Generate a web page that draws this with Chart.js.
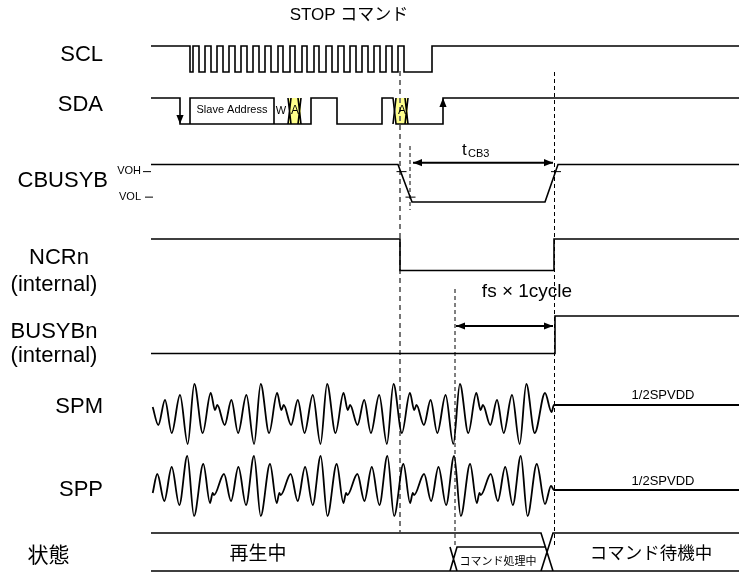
<!DOCTYPE html>
<html>
<head>
<meta charset="utf-8">
<script src="https://cdn.jsdelivr.net/npm/chart.js@4.4.0/dist/chart.umd.min.js"></script>
<style>
  html, body { margin: 0; padding: 0; background: #fff; }
  #wrap { width: 739px; height: 573px; }
</style>
</head>
<body>
<div id="wrap"><canvas id="timing" width="739" height="573"></canvas></div>
<script>
// ---- signal data (time in diagram units, level 1 = high, 0 = low) ----

// SCL: edge times and the level after each edge
const sclEdges  = [151, 190, 193, 199, 205, 211, 217, 223, 229, 235, 241, 247, 253, 259, 265, 271, 278, 283,
                   290, 295, 302, 307, 314, 319, 326, 332, 338, 344, 350, 356, 362, 368, 374, 380, 386, 392,
                   398, 404, 432];
const sclLevels = [1, 0, 1, 0, 1, 0, 1, 0, 1, 0, 1, 0, 1, 0, 1, 0, 1, 0,
                   1, 0, 1, 0, 1, 0, 1, 0, 1, 0, 1, 0, 1, 0, 1, 0, 1, 0,
                   1, 0, 1];

// SDA: main trace, the ACK crossings and the slave address box
const sdaMainT   = [151, 180, 180, 301, 311, 311, 337, 337, 382, 382, 393, 396, 443, 443, 739];
const sdaMainV   = [1, 1, 0, 0, 0, 1, 1, 0, 0, 1, 1, 0, 0, 1, 1];
const sdaCrossT  = [288, 291, null, 288, 291, null, 298, 301, null, 298, 301, null, 393, 396, null, 405, 408, null, 405, 408];
const sdaCrossV  = [0, 1, null, 1, 0, null, 0, 1, null, 1, 0, null, 0, 1, null, 0, 1, null, 1, 0];
const sdaBoxT    = [190, 190, 274, 274];
const sdaBoxV    = [0, 1, 1, 0];
const ackWindows = [[289, 301], [396, 408]];

// CBUSYB with slow edges, VOH / VOL thresholds
const cbT = [151, 398, 412, 545, 558, 739];
const cbV = [1, 1, 0, 0, 1, 1];
const VOH = 0.81, VOL = 0.13;
const cbTickT = [396.5, 406.5, null, 405.5, 415.5, null, 551, 561, null, 143, 151, null, 145, 153];
const cbTickV = [VOH, VOH, null, VOL, VOL, null, VOH, VOH, null, VOH, VOH, null, VOL, VOL];

// internal signals
const ncrEdges  = [151, 400, 554];
const ncrLevels = [1, 0, 1];
const busyEdges  = [151, 555];
const busyLevels = [0, 1];

// SPM / SPP audio output (deviation from 1/2SPVDD, read at peaks and troughs)
const spmT = [152.7,
  158.3, 165.0, 171.7, 180.0, 187.7, 194.3, 202.7, 210.7, 215.0, 217.3,
  224.7, 231.4, 238.1, 246.4, 254.1, 260.7, 269.1, 277.1, 281.4, 283.7,
  291.1, 297.8, 304.5, 312.8, 320.5, 327.1, 335.5, 343.5, 347.8, 350.1,
  357.5, 364.2, 370.9, 379.2, 386.9, 393.5, 401.9, 409.9, 414.2, 416.5,
  423.9, 430.6, 437.3, 445.6, 453.3, 459.9, 468.3, 476.3, 480.6, 482.9,
  490.3, 497.0, 503.7, 512.0, 519.7, 526.3, 534.7, 545.0, 551.5, 554.0, 739];
const spmV = [-2,
  -20, 5, -28, 10, -39, 21, -28, 12, -5, 0,
  -20, 5, -28, 10, -39, 21, -28, 12, -5, 0,
  -20, 5, -28, 10, -39, 21, -28, 12, -5, 0,
  -20, 5, -28, 10, -39, 21, -28, 12, -5, 0,
  -20, 5, -28, 10, -39, 21, -28, 12, -5, 0,
  -20, 5, -28, 10, -39, 21, -28, 12, -7, 0, 0];

const sppT = [152.7,
  157.3, 164.3, 171.7, 179.3, 187.3, 194.0, 203.3, 210.0, 212.7, 214.0,
  224.0, 231.0, 238.4, 246.0, 254.0, 260.7, 270.0, 276.7, 279.4, 280.7,
  290.7, 297.7, 305.1, 312.7, 320.7, 327.4, 336.7, 343.4, 346.1, 347.4,
  357.4, 364.4, 371.8, 379.4, 387.4, 394.1, 403.4, 410.1, 412.8, 414.1,
  424.1, 431.1, 438.5, 446.1, 454.1, 460.8, 470.1, 476.8, 479.5, 480.8,
  490.8, 497.8, 505.2, 512.8, 520.8, 527.5, 536.8, 545.0, 551.0, 554.0, 739];
const sppV = [-3,
  16, -11, 23, -15, 34, -26, 26, -13, -3, -5,
  16, -11, 23, -15, 34, -26, 26, -13, -3, -5,
  16, -11, 23, -15, 34, -26, 26, -13, -3, -5,
  16, -11, 23, -15, 34, -26, 26, -13, -3, -5,
  16, -11, 23, -15, 34, -26, 26, -13, -3, -5,
  16, -11, 23, -15, 34, -26, 26, -14, 4, 0, 0];

// state row (1 = upper edge, 0 = lower edge)
const stateT = [151, 541, 553, null, 541, 553, 739, null, 450, 457, 545, null, 450, 457, null, 151, 739];
const stateV = [1, 1, 0, null, 0, 1, 1, null, 0, 0.63, 0.63, null, 0.63, 0, null, 0, 0];

// timing markers
const guideT      = [400, 410, 455, 554.5];
const tcb3Span    = [413, 553];
const fsCycleSpan = [456, 553];

// ---- layout ----
const lanes = {
  SCL:    { hi: 46,    lo: 72 },
  SDA:    { hi: 98,    lo: 124 },
  CBUSYB: { hi: 164.5, lo: 202 },
  NCRn:   { hi: 239,   lo: 270.5 },
  BUSYBn: { hi: 316,   lo: 353.5 },
  STATE:  { hi: 533,   lo: 571 }
};
const spmMid = 405, sppMid = 490;
const guideTop = [71, 146, 289, 72], guideBottom = [532, 210, 548, 547];
const tcb3Y = 162.7, fsY = 326;

const toY = (lane, v) => v === null ? null : lanes[lane].lo - v * (lanes[lane].lo - lanes[lane].hi);

function stepPoints(lane, edges, levels, end) {
  const pts = [];
  edges.forEach((t, i) => {
    if (i > 0) pts.push({ x: t, y: toY(lane, levels[i - 1]) });
    pts.push({ x: t, y: toY(lane, levels[i]) });
  });
  pts.push({ x: end, y: toY(lane, levels[levels.length - 1]) });
  return pts;
}

function polyPoints(lane, times, levels) {
  return times.map((t, i) => ({ x: t === null ? times[i - 1] : t, y: toY(lane, levels[i]) }));
}

function analogPoints(times, values, mid) {
  return times.map((t, i) => ({ x: t, y: mid - values[i] }));
}

const line = (data, extra) => Object.assign({
  data: data, showLine: true, pointRadius: 0, borderColor: '#000', borderWidth: 1.6,
  tension: 0, spanGaps: false, fill: false
}, extra || {});

const datasets = [
  line(stepPoints('SCL', sclEdges, sclLevels, 739)),
  line(polyPoints('SDA', sdaMainT, sdaMainV)),
  line(polyPoints('SDA', sdaCrossT, sdaCrossV)),
  line(polyPoints('SDA', sdaBoxT, sdaBoxV)),
  line(polyPoints('CBUSYB', cbT, cbV)),
  line(polyPoints('CBUSYB', cbTickT, cbTickV), { borderWidth: 1 }),
  line(stepPoints('NCRn', ncrEdges, ncrLevels, 739)),
  line(stepPoints('BUSYBn', busyEdges, busyLevels, 739)),
  line(analogPoints(spmT, spmV, spmMid), { cubicInterpolationMode: 'monotone', borderWidth: 1.8 }),
  line(analogPoints(sppT, sppV, sppMid), { cubicInterpolationMode: 'monotone', borderWidth: 1.8 }),
  line(polyPoints('STATE', stateT, stateV)),
  line([{ x: tcb3Span[0], y: tcb3Y }, { x: tcb3Span[1], y: tcb3Y }], { borderWidth: 2 }),
  line([{ x: fsCycleSpan[0], y: fsY }, { x: fsCycleSpan[1], y: fsY }], { borderWidth: 2 })
];

guideT.forEach((t, i) => {
  datasets.push(line([{ x: t, y: guideTop[i] }, { x: t, y: guideBottom[i] }], i === 0
    ? { borderColor: '#666', borderWidth: 1.8, borderDash: [5, 4] }
    : { borderWidth: 1, borderDash: [4, 3] }));
});

const LATIN = '"Liberation Sans", Arial, "Noto Sans CJK JP", sans-serif';
const JP = '"Noto Sans CJK JP", sans-serif';

const texts = [
  { t: 'STOP コマンド', x: 349, y: 15, size: 17, align: 'center', font: LATIN },
  { t: 'SCL', x: 103, y: 55, size: 22, align: 'right' },
  { t: 'SDA', x: 103, y: 105, size: 22, align: 'right' },
  { t: 'CBUSYB', x: 108, y: 181, size: 22, align: 'right' },
  { t: 'VOH', x: 141, y: 171, size: 11, align: 'right' },
  { t: 'VOL', x: 141, y: 197, size: 11, align: 'right' },
  { t: 'NCRn', x: 59, y: 258, size: 22, align: 'center' },
  { t: '(internal)', x: 54, y: 285, size: 22, align: 'center' },
  { t: 'BUSYBn', x: 54, y: 332, size: 22, align: 'center' },
  { t: '(internal)', x: 54, y: 356, size: 22, align: 'center' },
  { t: 'SPM', x: 103, y: 407, size: 22, align: 'right' },
  { t: 'SPP', x: 103, y: 490, size: 22, align: 'right' },
  { t: '状態', x: 48.5, y: 554, size: 21, align: 'center', font: JP },
  { t: 'Slave Address', x: 232, y: 110, size: 11, align: 'center' },
  { t: 'W', x: 281, y: 111, size: 11, align: 'center' },
  { t: 'A', x: 295, y: 111, size: 12, align: 'center' },
  { t: 'A', x: 402, y: 111, size: 12, align: 'center' },
  { t: 't', x: 462, y: 150, size: 17, align: 'left' },
  { t: 'CB3', x: 468, y: 154, size: 11, align: 'left' },
  { t: 'fs × 1cycle', x: 527, y: 292, size: 19, align: 'center' },
  { t: '1/2SPVDD', x: 663, y: 395, size: 13, align: 'center' },
  { t: '1/2SPVDD', x: 663, y: 481, size: 13, align: 'center' },
  { t: '再生中', x: 258, y: 553, size: 19, align: 'center', font: JP },
  { t: 'コマンド処理中', x: 498, y: 561, size: 11, align: 'center', font: JP },
  { t: 'コマンド待機中', x: 651, y: 552, size: 17.5, align: 'center', font: JP }
];

function head(ctx, x, y, dir) {
  const len = 9, half = 3.6;
  ctx.beginPath();
  if (dir === 'left')  { ctx.moveTo(x, y); ctx.lineTo(x + len, y - half); ctx.lineTo(x + len, y + half); }
  if (dir === 'right') { ctx.moveTo(x, y); ctx.lineTo(x - len, y - half); ctx.lineTo(x - len, y + half); }
  if (dir === 'down')  { ctx.moveTo(x, y); ctx.lineTo(x - half, y - len); ctx.lineTo(x + half, y - len); }
  if (dir === 'up')    { ctx.moveTo(x, y); ctx.lineTo(x - half, y + len); ctx.lineTo(x + half, y + len); }
  ctx.closePath();
  ctx.fill();
}

const decorations = {
  id: 'decorations',
  beforeDatasetsDraw(chart) {
    const { ctx, scales: { x, y } } = chart;
    ctx.save();
    ctx.fillStyle = 'rgba(255, 255, 120, 0.85)';
    ackWindows.forEach(([a, b]) => {
      const top = y.getPixelForValue(toY('SDA', 1)), bot = y.getPixelForValue(toY('SDA', 0));
      ctx.fillRect(x.getPixelForValue(a), top, x.getPixelForValue(b) - x.getPixelForValue(a), bot - top);
    });
    ctx.restore();
  },
  afterDraw(chart) {
    const { ctx, scales: { x, y } } = chart;
    ctx.save();
    ctx.fillStyle = '#000';
    head(ctx, x.getPixelForValue(180), y.getPixelForValue(toY('SDA', 0)), 'down');
    head(ctx, x.getPixelForValue(443), y.getPixelForValue(toY('SDA', 1)), 'up');
    head(ctx, x.getPixelForValue(tcb3Span[0]), y.getPixelForValue(tcb3Y), 'left');
    head(ctx, x.getPixelForValue(tcb3Span[1]), y.getPixelForValue(tcb3Y), 'right');
    head(ctx, x.getPixelForValue(fsCycleSpan[0]), y.getPixelForValue(fsY), 'left');
    head(ctx, x.getPixelForValue(fsCycleSpan[1]), y.getPixelForValue(fsY), 'right');

    ctx.textBaseline = 'middle';
    texts.forEach(item => {
      ctx.font = item.size + 'px ' + (item.font || LATIN);
      ctx.textAlign = item.align;
      ctx.fillText(item.t, x.getPixelForValue(item.x), y.getPixelForValue(item.y));
    });
    ctx.restore();
  }
};

new Chart(document.getElementById('timing').getContext('2d'), {
  type: 'scatter',
  data: { datasets: datasets },
  options: {
    responsive: false,
    animation: false,
    devicePixelRatio: 1,
    layout: { padding: 0 },
    plugins: { legend: { display: false }, tooltip: { enabled: false } },
    scales: {
      x: { type: 'linear', min: 0, max: 739, display: false },
      y: { type: 'linear', min: 0, max: 573, reverse: true, display: false }
    }
  },
  plugins: [decorations]
});
</script>
</body>
</html>
